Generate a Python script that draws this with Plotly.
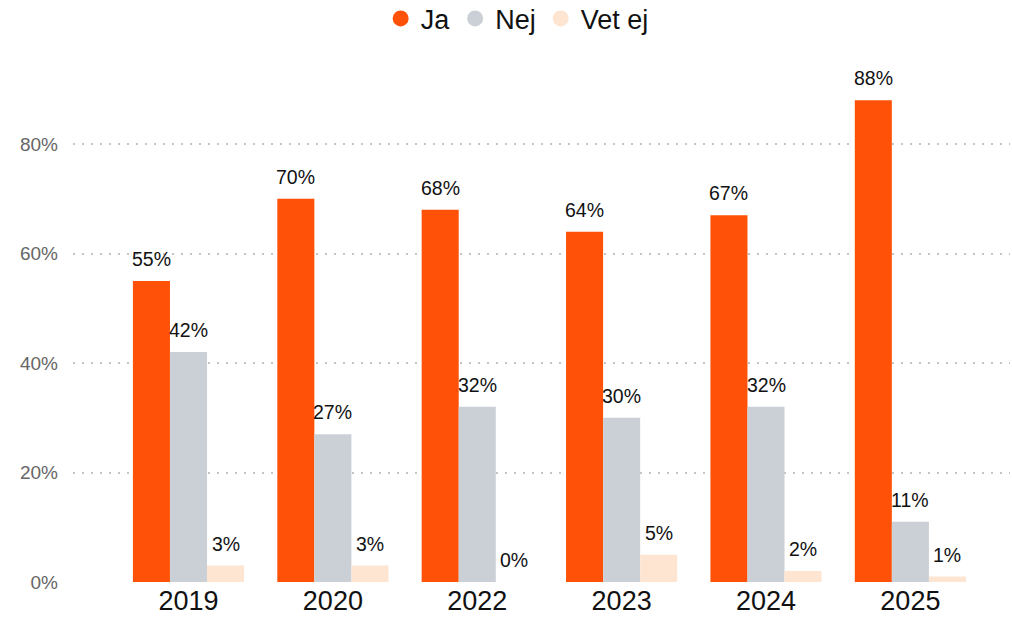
import plotly.graph_objects as go

years = ["2019", "2020", "2022", "2023", "2024", "2025"]
ja = [55, 70, 68, 64, 67, 88]
nej = [42, 27, 32, 30, 32, 11]
vet_ej = [3, 3, 0, 5, 2, 1]
y_ticks = [0, 20, 40, 60, 80]
y_tick_labels = ["0%", "20%", "40%", "60%", "80%"]

series = [("Ja", ja, "#FF5208"), ("Nej", nej, "#CBD0D6"), ("Vet ej", vet_ej, "#FDE5D2")]
bargap = 0.23

fig = go.Figure()
for name, vals, color in series:
    fig.add_trace(go.Bar(
        x=years, y=vals, name=name, marker=dict(color=color, line=dict(width=0)),
        showlegend=False, legendgroup=name, hoverinfo="x+y",
    ))
for name, vals, color in series:
    fig.add_trace(go.Scatter(
        x=[None], y=[None], mode="markers", name=name, legendgroup=name,
        marker=dict(symbol="circle", size=20, color=color),
    ))

# value labels above each bar (positions derived from category index + group offset)
n = len(series)
bw = (1 - bargap) / n
for si, (name, vals, color) in enumerate(series):
    off = (si - (n - 1) / 2) * bw
    for ci, v in enumerate(vals):
        fig.add_annotation(
            x=ci + off, y=v, xref="x", yref="y", text=f"{v}%", showarrow=False,
            yanchor="bottom", yshift=9,
            font=dict(size=19.5, color="#111111", family="Liberation Sans, Arial"),
        )

fig.update_layout(
    width=1012, height=617,
    margin=dict(l=73, r=2, t=62, b=35, autoexpand=False),
    paper_bgcolor="white", plot_bgcolor="white",
    barmode="group", bargap=bargap, bargroupgap=0,
    font=dict(family="Liberation Sans, Arial"),
    legend=dict(orientation="h", xref="paper", x=0.474, xanchor="center",
                yref="paper", y=1.13, yanchor="top",
                font=dict(size=27, color="#111111"),
                itemwidth=30, traceorder="normal", tracegroupgap=0),
    showlegend=True,
)
fig.update_xaxes(
    type="category", range=[-0.8, 5.69], showgrid=False, showline=False, ticks="",
    tickfont=dict(size=27, color="#111111"), tickangle=0, automargin=False,
)
fig.update_yaxes(
    range=[0, 95], tickvals=y_ticks, ticktext=y_tick_labels,
    tickfont=dict(size=19, color="#666666"), automargin=False,
    showgrid=True, gridcolor="#C4C4C4", griddash="2px,7px", gridwidth=1.5,
    zeroline=False, showline=False, ticks="", ticklabelstandoff=14,
)
fig.write_html("out.html", config={"displayModeBar": False},
               post_script="document.body.style.margin='0';")
